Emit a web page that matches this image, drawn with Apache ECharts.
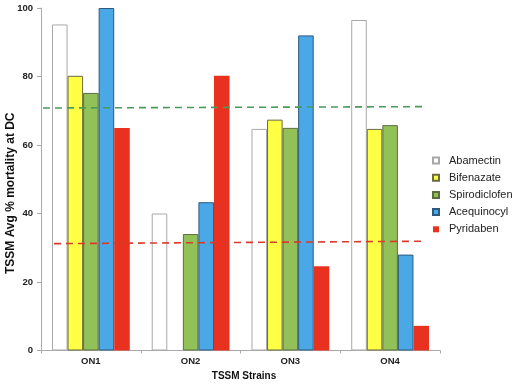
<!DOCTYPE html>
<html><head><meta charset="utf-8">
<script src="https://cdn.jsdelivr.net/npm/echarts@6/dist/echarts.min.js"></script>
<style>html,body{margin:0;padding:0;background:#fff}#c{width:515px;height:386px}</style>
</head><body><div id="c"></div>
<script>
var categories = ['ON1', 'ON2', 'ON3', 'ON4'];
var seriesNames = ['Abamectin', 'Bifenazate', 'Spirodiclofen', 'Acequinocyl', 'Pyridaben'];
var abamectin = [95.2, 40, 64.7, 96.5];
var bifenazate = [80.2, null, 67.4, 64.7];
var spirodiclofen = [75.2, 34, 65, 65.8];
var acequinocyl = [100, 43.3, 92, 28];
var pyridaben = [65, 80.2, 24.6, 7.2];
var greenLine = [[0.02, 70.8], [3.83, 71.2]];
var redLine = [[0.13, 31.2], [3.83, 31.9]];
var yTicks = [0, 20, 40, 60, 80, 100];

var colors = ['#ffffff', '#ffff44', '#92c157', '#4aa8e6', '#e8311f'];
var borders = ['#a8a8a8', '#6b6b40', '#5a6e40', '#2e5a80', '#e8311f'];
var values = [abamectin, bifenazate, spirodiclofen, acequinocyl, pyridaben];

var series = seriesNames.map(function (n, i) {
  return {
    name: n, type: 'bar', data: values[i], barGap: '0%', barCategoryGap: '22%',
    itemStyle: { color: colors[i], borderColor: borders[i], borderWidth: i === 4 ? 0 : 1 }
  };
});
series.push({
  type: 'line', xAxisIndex: 1, data: greenLine, symbol: 'none', silent: true,
  lineStyle: { color: '#4a9a5a', type: [7, 5], width: 1.6 }
});
series.push({
  type: 'line', xAxisIndex: 1, data: redLine, symbol: 'none', silent: true,
  lineStyle: { color: '#d93a2a', type: [7, 5], width: 1.6 }
});

var chart = echarts.init(document.getElementById('c'));
chart.setOption({
  animation: false,
  backgroundColor: '#fff',
  grid: { left: 41, right: 75, top: 8, bottom: 35.5, outerBoundsMode: 'none', containLabel: false },
  legend: {
    data: seriesNames, orient: 'vertical', left: 427, top: 150,
    itemWidth: 6, itemHeight: 6, itemGap: 6.2, icon: 'rect',
    textStyle: { fontFamily: 'Liberation Sans, Arial', fontSize: 11, color: '#222', padding: [0, 0, 0, 5] }
  },
  xAxis: [{
    type: 'category', data: categories,
    name: 'TSSM Strains', nameLocation: 'middle', nameGap: 19,
    nameTextStyle: { fontFamily: 'Liberation Sans, Arial', fontWeight: 'bold', fontSize: 10, color: '#111', padding: [0, 0, 0, 7] },
    axisLine: { lineStyle: { color: '#aaa' } },
    axisTick: { show: true, length: 3, lineStyle: { color: '#aaa' } },
    axisLabel: { fontFamily: 'Liberation Sans, Arial', fontWeight: 'bold', fontSize: 9.5, color: '#222', margin: 6 },
    splitLine: { show: false }
  }, {
    type: 'value', min: 0, max: 4, show: false
  }],
  yAxis: {
    type: 'value', min: 0, max: 100, interval: 20,
    name: 'TSSM Avg % mortality at DC', nameLocation: 'middle', nameGap: 24, nameMoveOverlap: false,
    nameTextStyle: { fontFamily: 'Liberation Sans, Arial', fontWeight: 'bold', fontSize: 12, color: '#111', padding: [0, 28, 0, 0] },
    axisLine: { show: true, lineStyle: { color: '#aaa' } },
    axisTick: { show: true, length: 4, lineStyle: { color: '#aaa' } },
    axisLabel: {
      fontFamily: 'Liberation Sans, Arial', fontWeight: 'bold', fontSize: 9.5, color: '#222', margin: 8,
      formatter: function (v) { return yTicks.indexOf(v) >= 0 ? String(v) : ''; }
    },
    splitLine: { show: false }
  },
  series: series
});
</script></body></html>
